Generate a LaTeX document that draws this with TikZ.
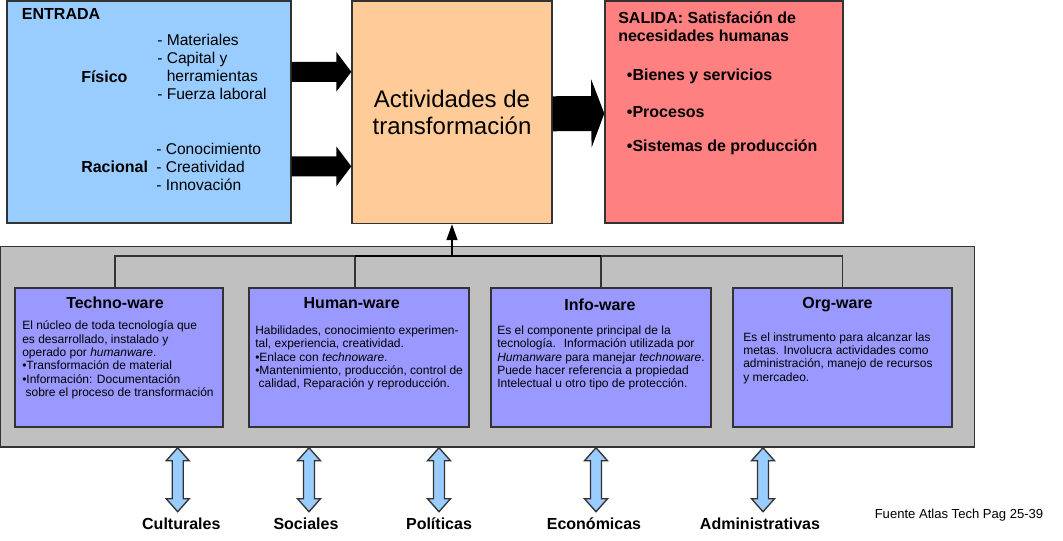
\documentclass[tikz,border=0pt]{standalone}
\usepackage{fontspec}
\setmainfont{Liberation Sans}
\usetikzlibrary{arrows.meta}
\definecolor{entradablue}{RGB}{153,204,255}
\definecolor{actorange}{RGB}{255,204,153}
\definecolor{salidared}{RGB}{255,128,128}
\definecolor{panelgray}{RGB}{192,192,192}
\definecolor{wareviolet}{RGB}{153,153,255}
\definecolor{edgegray}{RGB}{51,51,51}

\begin{document}
\begin{tikzpicture}[
  x=0.75pt, y=-0.75pt,
  block/.style={draw=edgegray, line width=1pt, inner sep=0pt},
  ware/.style={block, fill=wareviolet, minimum height=104.25pt},
  waretitle/.style={inner sep=0pt, font=\fontsize{12}{13}\selectfont\bfseries},
  waretext/.style={anchor=west, align=left, inner sep=0pt, font=\fontsize{9}{10}\selectfont},
  entext/.style={anchor=west, align=left, inner sep=0pt, font=\fontsize{11.7}{13.5}\selectfont},
  boldtext/.style={anchor=west, inner sep=0pt, font=\fontsize{12}{13.5}\selectfont\bfseries},
  factor/.style={anchor=base, inner sep=0pt, font=\fontsize{12}{14}\selectfont\bfseries},
  bulk/.style={line width=15pt, -{Triangle[length=11.25pt, width=29.25pt]}},
  bus/.style={draw=edgegray, line width=1pt},
  twoway/.style={draw=edgegray, fill=entradablue, line width=1pt, line join=miter}
]
\useasboundingbox (0,0) rectangle (1063,540);

% bloques superiores
\node[block, fill=entradablue, minimum width=213pt, minimum height=166.5pt] (entrada) at (149,112) {};
\node[block, fill=actorange, minimum width=150pt, minimum height=166.9pt, align=center,
  font=\fontsize{18}{20}\selectfont] (act) at (452,112.3) {Actividades de\\transformación};
\node[block, fill=salidared, minimum width=178.5pt, minimum height=166.5pt] (salida) at (724,112) {};

\node[boldtext] (entlbl) at (21.7,14) {ENTRADA};
\node[boldtext] (fisico) at (81,77) {Físico};
\node[boldtext] (racional) at (81,167) {Racional};
\node[entext] (fislist) at (157,67) {- Materiales\\- Capital y\\\phantom{- }herramientas\\- Fuerza laboral};
\node[entext] (raclist) at (156,167) {- Conocimiento\\- Creatividad\\- Innovación};

\node[boldtext, align=left] (saltitle) at (618,27) {SALIDA: Satisfación de\\necesidades humanas};
\node[boldtext] (bienes) at (626.7,76) {•Bienes y servicios};
\node[boldtext] (procesos) at (626.7,111.7) {•Procesos};
\node[boldtext] (sistemas) at (626.7,147.3) {•Sistemas de producción};

\draw[bulk] ([yshift=-53.6pt]entrada.north east) -- ([yshift=-53.6pt]act.north west);
\draw[bulk] ([yshift=-124.5pt]entrada.north east) -- ([yshift=-124.5pt]act.north west);
\draw[bulk, line width=26.25pt, -{Triangle[length=9.75pt, width=51pt]}]
  ([yshift=-1.1pt]act.east) -- ([yshift=-1.1pt]salida.west);

% componentes de la tecnologia
\node[block, fill=panelgray, minimum width=730.5pt, minimum height=150.4pt] (panel) at (487.6,346.8) {};

\node[ware, minimum width=156pt] (techno) at (119,357.5) {};
\node[ware, minimum width=165pt] (human) at (359,357.5) {};
\node[ware, minimum width=165pt] (info) at (601,357.5) {};
\node[ware, minimum width=164.25pt] (org) at (842.5,357.5) {};

\node[waretitle] (technot) at (115,302.7) {Techno-ware};
\node[waretitle] (humant) at (351.7,302.7) {Human-ware};
\node[waretitle] (infot) at (600,305) {Info-ware};
\node[waretitle] (orgt) at (837.5,305) {Org-ware};

\node[waretext] (technotx) at (22,360) {El núcleo de toda tecnología que\\es desarrollado, instalado y\\operado por \textit{humanware}.\\•Transformación de material\\•Información: Documentación\\\hspace{2.5pt}sobre el proceso de transformación};
\node[waretext] (humantx) at (255,358) {Habilidades, conocimiento experimen-\\tal, experiencia, creatividad.\\•Enlace con \textit{technoware}.\\•Mantenimiento, producción, control de\\\hspace{2.5pt}calidad, Reparación y reproducción.};
\node[waretext] (infotx) at (497,358) {Es el componente principal de la\\tecnología.~ Información utilizada por\\\textit{Humanware} para manejar \textit{technoware}.\\Puede hacer referencia a propiedad\\Intelectual u otro tipo de protección.};
\node[waretext] (orgtx) at (743,358) {Es el instrumento para alcanzar las\\metas. Involucra actividades como\\administración, manejo de recursos\\y mercadeo.};

\coordinate (hub) at (452,256);
\draw[bus] ([xshift=-3pt]techno.north) -- ([xshift=-3pt]techno.north |- hub) -- (org.north |- hub) -- (org.north);
\draw[bus] ([xshift=-3pt]human.north) -- ([xshift=-3pt]human.north |- hub);
\draw[bus] (info.north) -- (info.north |- hub);
\draw[bus, draw=black, line width=1.5pt] ([xshift=-3pt]human.north |- hub) -- (info.north |- hub);
\draw[line width=1.2pt, -{Triangle[length=12pt, width=8.25pt]}] (hub) -- (act.south);

% factores del entorno
\node[factor] (cult) at (181.3,529.5) {Culturales};
\node[factor] (soc) at (306,529.5) {Sociales};
\node[factor] (pol) at (439,529.5) {Políticas};
\node[factor] (eco) at (594,529.5) {Económicas};
\node[factor] (adm) at (760,529.5) {Administrativas};
\node[inner sep=0pt, font=\fontsize{9.8}{12}\selectfont] (fuente) at (959,515) {Fuente Atlas Tech Pag 25-39};

\foreach \n/\dx in {cult/-3.6, soc/3, pol/0, eco/2, adm/3}
  \draw[twoway] ([xshift=\dx*0.75pt]panel.south -| \n) -- ++(11.5,13) -- ++(-6,0) -- ++(0,38)
    -- ++(6,0) -- ++(-11.5,13) -- ++(-11.5,-13) -- ++(6,0) -- ++(0,-38) -- ++(-6,0) -- cycle;
\end{tikzpicture}
\end{document}
